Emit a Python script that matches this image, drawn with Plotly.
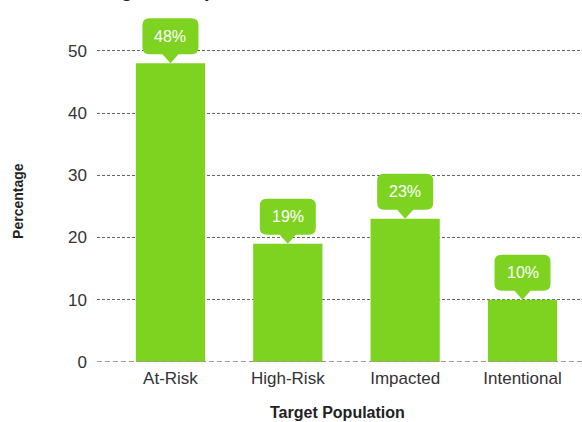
import plotly.graph_objects as go

categories = ["At-Risk", "High-Risk", "Impacted", "Intentional"]
percentages = [48, 19, 23, 10]
value_labels = ["48%", "19%", "23%", "10%"]
y_ticks = [0, 10, 20, 30, 40, 50]

GREEN = "#7ED321"
FONT = "Liberation Sans, Arial, sans-serif"

fig = go.Figure(
    go.Bar(
        x=list(range(len(categories))),
        y=percentages,
        width=0.59,
        marker=dict(color=GREEN, line=dict(width=0)),
        hoverinfo="skip",
    )
)

# callout bubble (rounded box + pointer) in pixel units, tip anchored at the bar top
W, H, P, R, T = 56, 36, 9, 7, 8
x0, x1 = -W / 2, W / 2
b, t = P, P + H
bubble = (
    f"M0,0 L{-T},{b} L{x0 + R},{b} Q{x0},{b} {x0},{b + R} "
    f"L{x0},{t - R} Q{x0},{t} {x0 + R},{t} L{x1 - R},{t} Q{x1},{t} {x1},{t - R} "
    f"L{x1},{b + R} Q{x1},{b} {x1 - R},{b} L{T},{b} Z"
)

for i, (v, lab) in enumerate(zip(percentages, value_labels)):
    fig.add_shape(
        type="path",
        xref="x", yref="y",
        xsizemode="pixel", ysizemode="pixel",
        xanchor=i, yanchor=v,
        path=bubble,
        fillcolor=GREEN,
        line=dict(width=0),
        layer="above",
    )
    fig.add_annotation(
        x=i, y=v, xref="x", yref="y",
        text=lab, showarrow=False,
        yshift=27,
        font=dict(family=FONT, size=16, color="white"),
    )

# chart title, sitting mostly above the top edge of the page
fig.add_annotation(
    text="<b>Target Group Distribution</b>", xref="paper", yref="paper",
    x=-0.0165, y=0.9955, xanchor="left", yanchor="bottom", showarrow=False,
    font=dict(family=FONT, size=20, color="#222222"),
)

# axis titles
fig.add_annotation(
    text="<b>Percentage</b>", xref="paper", yref="paper",
    x=-0.163, y=0.446, xanchor="center", yanchor="middle",
    textangle=-90, showarrow=False,
    font=dict(family=FONT, size=14, color="#222222"),
)
fig.add_annotation(
    text="<b>Target Population</b>", xref="paper", yref="paper",
    x=0.495, y=-0.141, xanchor="center", yanchor="middle", showarrow=False,
    font=dict(family=FONT, size=16, color="#222222"),
)

fig.update_layout(
    width=582, height=422,
    margin=dict(l=97, r=0, t=1, b=60),
    paper_bgcolor="white",
    plot_bgcolor="white",
    showlegend=False,
    xaxis=dict(
        range=[-0.626, 3.507],
        tickmode="array",
        tickvals=list(range(len(categories))),
        ticktext=categories,
        showgrid=False,
        zeroline=False,
        showline=False,
        ticks="",
        ticklen=0,
        ticklabelstandoff=4,
        tickfont=dict(family=FONT, size=17, color="#333333"),
    ),
    yaxis=dict(
        range=[0, 58],
        tickmode="array",
        tickvals=y_ticks,
        showgrid=True,
        gridcolor="#666666",
        griddash="3px,2px",
        gridwidth=1,
        zeroline=False,
        showline=False,
        ticks="",
        ticklabelstandoff=9,
        tickfont=dict(family=FONT, size=17, color="#333333"),
    ),
)

# dashed baseline at zero, lighter than the grid
fig.add_shape(
    type="line", xref="paper", yref="y",
    x0=0, x1=1, y0=0, y1=0,
    line=dict(color="#9a9a9a", width=2, dash="5px,3px"),
    layer="above",
)

fig.write_html("out.html")
